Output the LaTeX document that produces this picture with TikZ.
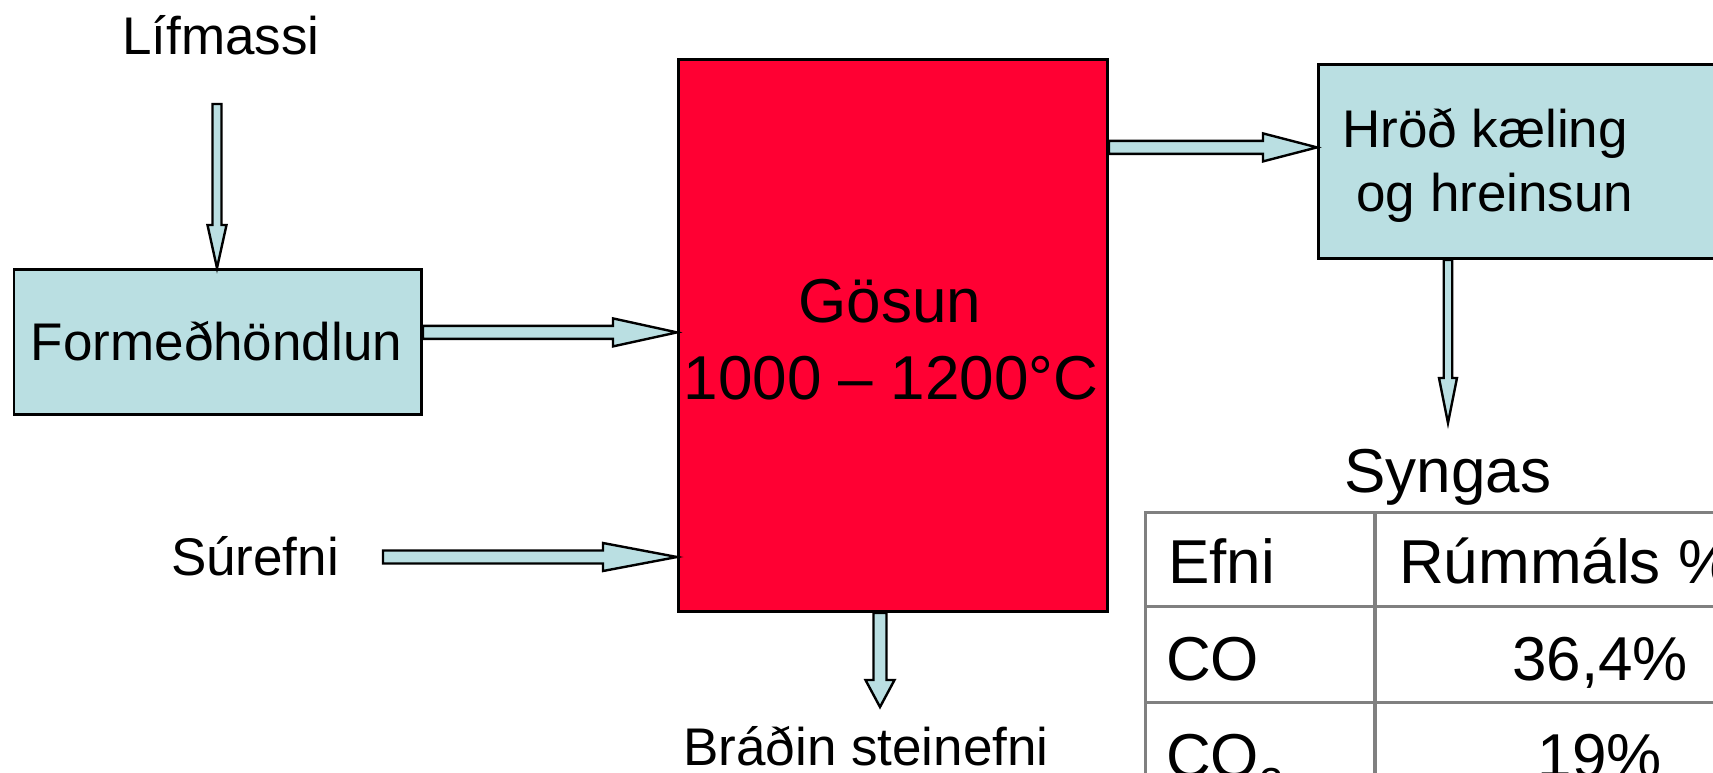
\documentclass[tikz,border=0pt]{standalone}
\usepackage{fontspec}
\setmainfont{Liberation Sans}
\usetikzlibrary{calc}
\definecolor{lblue}{HTML}{BADFE2}
\definecolor{gred}{HTML}{FF0033}
\definecolor{tgray}{HTML}{808080}
\tikzset{
  bluebox/.style={draw=black, fill=lblue, line width=2.8pt, inner sep=0pt},
  redbox/.style={draw=black, fill=gred, line width=2.8pt, inner sep=0pt},
  blockarrow/.style={draw=black, fill=lblue, line width=2.4pt, line join=miter},
  lbl/.style={inner sep=0pt, font=\fontsize{53}{64}\selectfont},
  big/.style={inner sep=0pt, font=\fontsize{62}{74}\selectfont},
  tline/.style={draw=tgray, line width=3.5pt}
}
% horizontal block arrow: start, tip, shaft width, head width, head length
\newcommand\barrowH[5]{\draw[blockarrow] let \p1=(#1), \p2=(#2) in
  (\x1,\y2+#3/2) -- (\x2-#5,\y2+#3/2) -- (\x2-#5,\y2+#4/2) -- (\x2,\y2)
  -- (\x2-#5,\y2-#4/2) -- (\x2-#5,\y2-#3/2) -- (\x1,\y2-#3/2) -- cycle;}
% downward block arrow
\newcommand\barrowV[5]{\draw[blockarrow] let \p1=(#1), \p2=(#2) in
  (\x2-#3/2,\y1) -- (\x2-#3/2,\y2+#5) -- (\x2-#4/2,\y2+#5) -- (\x2,\y2)
  -- (\x2+#4/2,\y2+#5) -- (\x2+#3/2,\y2+#5) -- (\x2+#3/2,\y1) -- cycle;}
\begin{document}
\begin{tikzpicture}[x=1pt,y=-1pt]
\useasboundingbox (0,0) rectangle (1713,773);
\fill[white] (0,0) rectangle (1713,773);

% boxes
\node[bluebox, minimum width=407.5pt, minimum height=145pt, anchor=north west] (form) at (12.5,268) {};
\node[redbox, minimum width=429pt, minimum height=552pt, anchor=north west] (gasun) at (677,58) {};
\node[bluebox, minimum width=520pt, minimum height=194pt, anchor=north west] (hrod) at (1317,63) {};

% texts
\node[lbl, anchor=base] (lif) at (221,55) {Lífmassi};
\node[lbl, anchor=base] (formtxt) at (216.5,360) {Formeðhöndlun};
\node[lbl, anchor=base] (sur) at (255,575) {Súrefni};
\node[lbl, anchor=base] (brad) at (866,765) {Bráðin steinefni};
\node[big, anchor=base] (gos1) at (890,322) {Gösun};
\node[big, anchor=base] (gos2) at (891,399) {1000 – 1200°C};
\node[lbl, anchor=base] (hr1) at (1485,147) {Hröð kæling};
\node[lbl, anchor=base] (hr2) at (1495,211) {og hreinsun};
\node[big, anchor=base] (syn) at (1448,492) {Syngas};

% table
\draw[tline] (1145.6,512.7) -- (1725,512.7);
\draw[tline] (1145.6,606.7) -- (1725,606.7);
\draw[tline] (1145.6,702.7) -- (1725,702.7);
\draw[tline] (1145.6,511) -- (1145.6,790);
\draw[tline] (1375,511) -- (1375,790);
\node[big, anchor=base west] (th1) at (1168,583) {Efni};
\node[big, anchor=base west] (th2) at (1399,583) {Rúmmáls \%};
\node[big, anchor=base west] (r1a) at (1166,680) {CO};
\node[big, anchor=base] (r1b) at (1600,680) {36,4\%};
\node[big, anchor=base west] (r2a) at (1166,777) {CO\textsubscript{2}};
\node[big, anchor=base] (r2b) at (1600,777) {19\%};

% connector end points
\coordinate (c1) at (217,104);
\coordinate (c2) at ([yshift=9.5pt]form.east);
\coordinate (c3) at ([yshift=14pt]hrod.west);
\coordinate (c4) at (1448,423);
\coordinate (c5) at (880,707);
\coordinate (c6) at (383,557);

% block arrows
\barrowV{c1}{form.north -| c1}{9pt}{19pt}{43pt}
\barrowH{c2}{gasun.west |- c2}{13pt}{28pt}{64pt}
\barrowH{gasun.east |- c3}{c3}{13pt}{28pt}{54pt}
\barrowV{hrod.south -| c4}{c4}{8.5pt}{18pt}{45pt}
\barrowV{gasun.south -| c5}{c5}{13pt}{29pt}{27pt}
\barrowH{c6}{gasun.west |- c6}{13pt}{28pt}{74pt}
\end{tikzpicture}
\end{document}
